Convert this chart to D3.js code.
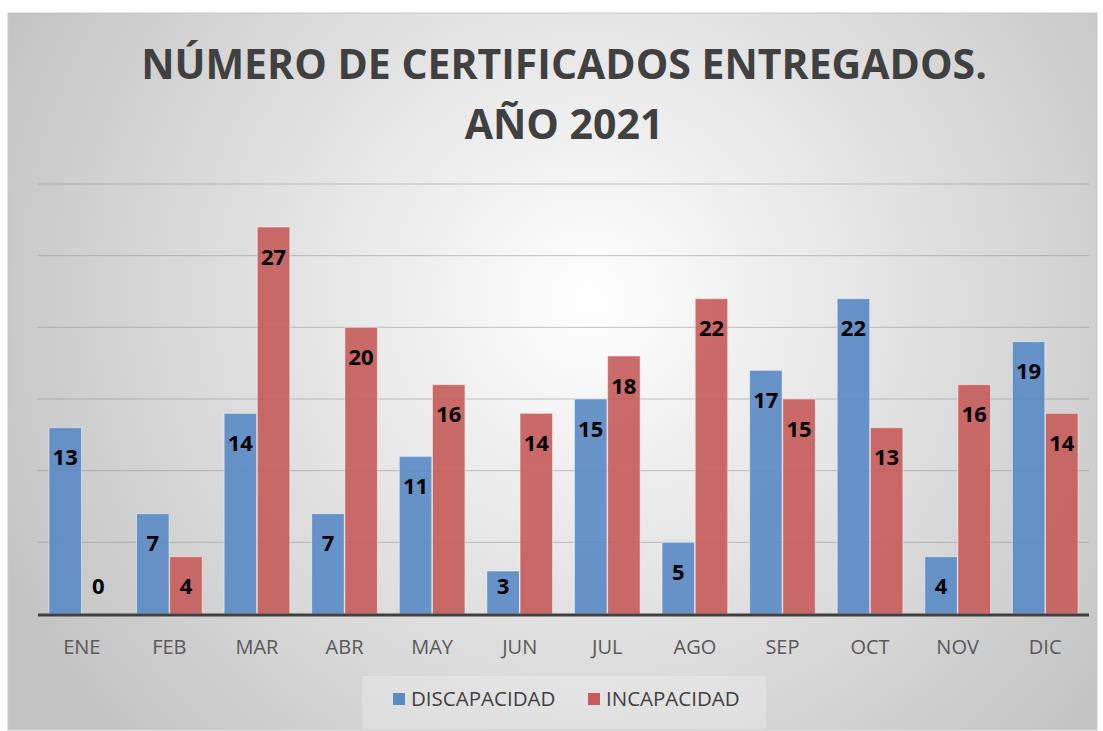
<!DOCTYPE html>
<html lang="es">
<head>
<meta charset="UTF-8">
<title>Número de certificados entregados 2021</title>
<script src="https://d3js.org/d3.v7.min.js"></script>
<style>
    body { margin: 0; background: #fff; }
    svg { display: block; }
    text { font-family: 'Open Sans', Arial, sans-serif; }
</style>
</head>
<body>
<svg width="1103" height="731"></svg>
<script>
// datos
const meses = ["ENE","FEB","MAR","ABR","MAY","JUN","JUL","AGO","SEP","OCT","NOV","DIC"];
const discapacidad = [13,7,14,7,11,3,15,5,17,22,4,19];
const incapacidad  = [0,4,27,20,16,14,18,22,15,13,16,14];
const series = ["DISCAPACIDAD","INCAPACIDAD"];
const colores = ["#5b8bc5", "#c65d5c"];
const yTicks = [0,5,10,15,20,25,30];

const svg = d3.select("svg");

// fondo con degradado radial
const defs = svg.append("defs");
const grad = defs.append("radialGradient")
    .attr("id", "fondo")
    .attr("gradientUnits", "userSpaceOnUse")
    .attr("cx", 590).attr("cy", 300).attr("r", 640);
grad.append("stop").attr("offset", "0%").attr("stop-color", "#ffffff");
grad.append("stop").attr("offset", "100%").attr("stop-color", "#c4c4c4");

svg.append("rect")
    .attr("x", 8).attr("y", 13).attr("width", 1089).attr("height", 717)
    .attr("fill", "url(#fondo)")
    .attr("stroke", "#c8c8c8");

// título
const titulo = svg.append("text")
    .attr("text-anchor", "middle")
    .attr("fill", "#404040")
    .style("font-weight", "bold")
    .style("font-size", "41px");
titulo.append("tspan").attr("x", 564).attr("y", 79).text("NÚMERO DE CERTIFICADOS ENTREGADOS.");
titulo.append("tspan").attr("x", 564).attr("y", 139).text("AÑO 2021");

const mLeft = 38, mRight = 1089, mTop = 184, mBottom = 614;

const x = d3.scaleBand().domain(meses).range([mLeft, mRight]).paddingInner(0.25).paddingOuter(0.125);
const xs = d3.scaleBand().domain(series).range([0, x.bandwidth()]).paddingInner(0.02);
const y = d3.scaleLinear().domain([0, 30]).range([mBottom, mTop]);

// líneas de la cuadrícula
svg.append("g")
    .selectAll("line")
    .data(yTicks.slice(1))
    .join("line")
    .attr("x1", mLeft).attr("x2", mRight)
    .attr("y1", d => y(d)).attr("y2", d => y(d))
    .attr("stroke", "#8c8c8c")
    .attr("stroke-opacity", 0.5)
    .attr("stroke-width", 1);

const datos = meses.map((m, i) => ({ mes: m, valores: [discapacidad[i], incapacidad[i]] }));

const grupos = svg.append("g")
    .selectAll("g")
    .data(datos)
    .join("g")
    .attr("transform", d => `translate(${x(d.mes)},0)`);

grupos.selectAll("rect")
    .data(d => d.valores.map((v, j) => ({ serie: series[j], v, j })))
    .join("rect")
    .attr("x", d => xs(d.serie))
    .attr("width", xs.bandwidth())
    .attr("y", d => y(d.v))
    .attr("height", d => mBottom - y(d.v))
    .attr("fill", d => colores[d.j])
    .attr("fill-opacity", 0.92)
    .attr("stroke", d => d.v > 0 ? "#ffffff" : "none")
    .attr("stroke-opacity", 0.5)
    .attr("stroke-width", 1);

grupos.selectAll("text.valor")
    .data(d => d.valores.map((v, j) => ({ serie: series[j], v, j })))
    .join("text")
    .attr("class", "valor")
    .attr("x", d => xs(d.serie) + xs.bandwidth() / 2)
    .attr("y", d => Math.min(y(d.v) + 30, mBottom - 28))
    .attr("dy", "0.35em")
    .attr("text-anchor", "middle")
    .attr("fill", "#000")
    .style("font-weight", "bold")
    .style("font-size", "22px")
    .text(d => d.v);

// eje x
svg.append("line")
    .attr("x1", mLeft).attr("x2", mRight)
    .attr("y1", mBottom + 1).attr("y2", mBottom + 1)
    .attr("stroke", "#404040")
    .attr("stroke-width", 3);

svg.append("g")
    .selectAll("text")
    .data(meses)
    .join("text")
    .attr("x", d => x(d) + x.bandwidth() / 2)
    .attr("y", 647)
    .attr("dy", "0.35em")
    .attr("text-anchor", "middle")
    .attr("fill", "#595959")
    .style("font-size", "20px")
    .text(d => d);

// leyenda
svg.append("rect")
    .attr("x", 362).attr("y", 676).attr("width", 404).attr("height", 53)
    .attr("fill", "#f4f4f4").attr("fill-opacity", 0.35);

const leyenda = svg.append("g").selectAll("g")
    .data(series)
    .join("g")
    .attr("transform", (d, i) => `translate(${i === 0 ? 393 : 588},699)`);
leyenda.append("rect")
    .attr("x", 0).attr("y", -6).attr("width", 12).attr("height", 12)
    .attr("fill", (d, i) => colores[i]);
leyenda.append("text")
    .attr("x", 18).attr("dy", "0.35em")
    .attr("fill", "#404040")
    .style("font-size", "20.5px")
    .text(d => d);
</script>
</body>
</html>
